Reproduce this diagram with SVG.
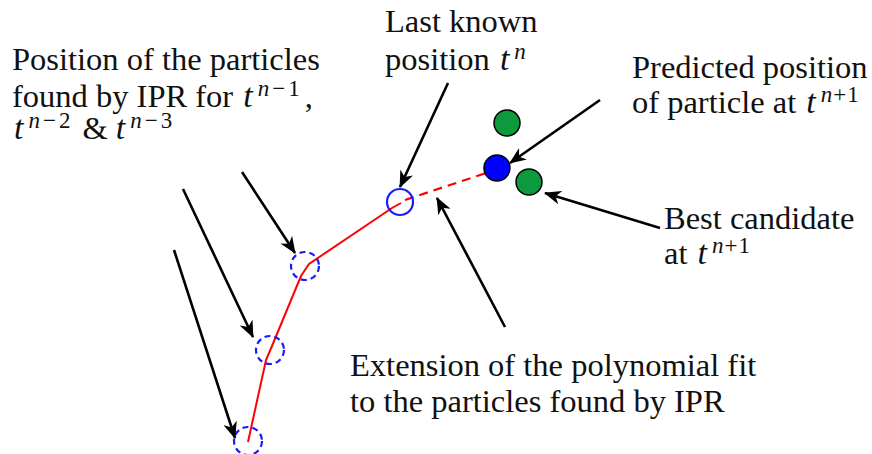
<svg xmlns="http://www.w3.org/2000/svg" width="872" height="454" viewBox="0 0 872 454">
<style>
text{font-family:"Liberation Serif","Times New Roman",serif;font-size:32.5px;fill:#111}
.m{font-style:italic;font-size:34px}
.s{font-size:23px;font-style:italic}
.u{font-size:23px}
.arr{stroke:#000;stroke-width:2.6;fill:none;marker-end:url(#ah)}
.fit{stroke:#ff0000;stroke-width:2;fill:none}
.dash{stroke:#ff0000;stroke-width:2.2;fill:none;stroke-dasharray:9 6}
.past{fill:none;stroke:#1a1aff;stroke-width:2.2;stroke-dasharray:6 4}
</style>
<defs>
<marker id="ah" markerUnits="userSpaceOnUse" markerWidth="18" markerHeight="14" refX="16" refY="7" orient="auto">
<path d="M0,0 L17,7 L0,14 L5,7 z" fill="#000"/>
</marker>
</defs>
<rect width="872" height="454" fill="#fff"/>
<g id="curve">
<polyline class="fit" points="248,442 266,360 272,346 301,276 309,264 392,208 401,203"/>
<line class="dash" x1="405" y1="200" x2="486" y2="173"/>
</g>
<g id="p3"><circle class="past" cx="248" cy="441" r="14"/></g>
<g id="p2"><circle class="past" cx="270" cy="350" r="14"/></g>
<g id="p1"><circle class="past" cx="305" cy="266" r="14"/></g>
<g id="p0"><circle cx="400" cy="202" r="13" fill="none" stroke="#1a1aff" stroke-width="2.2"/></g>
<g id="predicted"><circle cx="497" cy="168" r="13" fill="#0000ff" stroke="#000" stroke-width="1.5"/></g>
<g id="cand1"><circle cx="507" cy="123" r="13" fill="#0d9a3e" stroke="#000" stroke-width="1.5"/></g>
<g id="cand2"><circle cx="529" cy="182" r="13" fill="#0d9a3e" stroke="#000" stroke-width="1.5"/></g>
<g id="connectors">
<line class="arr" x1="242" y1="172" x2="295" y2="253"/>
<line class="arr" x1="183" y1="189" x2="253" y2="337"/>
<line class="arr" x1="174" y1="250" x2="235" y2="438"/>
<line class="arr" x1="448" y1="83" x2="400" y2="187"/>
<line class="arr" x1="505" y1="327" x2="437" y2="198"/>
<line class="arr" x1="600" y1="100" x2="510" y2="163"/>
<line class="arr" x1="660" y1="228" x2="545" y2="193"/>
</g>
<g id="label-past">
<text x="12" y="70">Position of the particles</text>
<text x="12" y="107">found by IPR for <tspan class="m" dx="2">t</tspan><tspan class="s" dx="5" dy="-11">n</tspan><tspan class="u" dx="3">−</tspan><tspan class="u" dx="3">1</tspan><tspan dx="5" dy="11">,</tspan></text>
<text x="12" y="139"><tspan class="m" dx="2">t</tspan><tspan class="s" dx="5" dy="-11">n</tspan><tspan class="u" dx="3">−</tspan><tspan class="u" dx="3">2</tspan><tspan dx="12" dy="11">&amp;</tspan><tspan class="m" dx="8">t</tspan><tspan class="s" dx="5" dy="-11">n</tspan><tspan class="u" dx="3">−</tspan><tspan class="u" dx="3">3</tspan></text>
</g>
<g id="label-last">
<text x="385" y="32">Last known</text>
<text x="385" y="70">position <tspan class="m" dx="2">t</tspan><tspan class="s" dx="5" dy="-11">n</tspan></text>
</g>
<g id="label-pred">
<text x="632" y="78">Predicted position</text>
<text x="632" y="113">of particle at <tspan class="m" dx="2">t</tspan><tspan class="s" dx="5" dy="-11">n</tspan><tspan class="u" dx="1">+</tspan><tspan class="u" dx="1">1</tspan></text>
</g>
<g id="label-best">
<text x="664" y="229">Best candidate</text>
<text x="664" y="264">at <tspan class="m" dx="2">t</tspan><tspan class="s" dx="5" dy="-11">n</tspan><tspan class="u" dx="1">+</tspan><tspan class="u" dx="1">1</tspan></text>
</g>
<g id="label-ext">
<text x="350" y="376">Extension of the polynomial fit</text>
<text x="350" y="412">to the particles found by IPR</text>
</g>
</svg>
